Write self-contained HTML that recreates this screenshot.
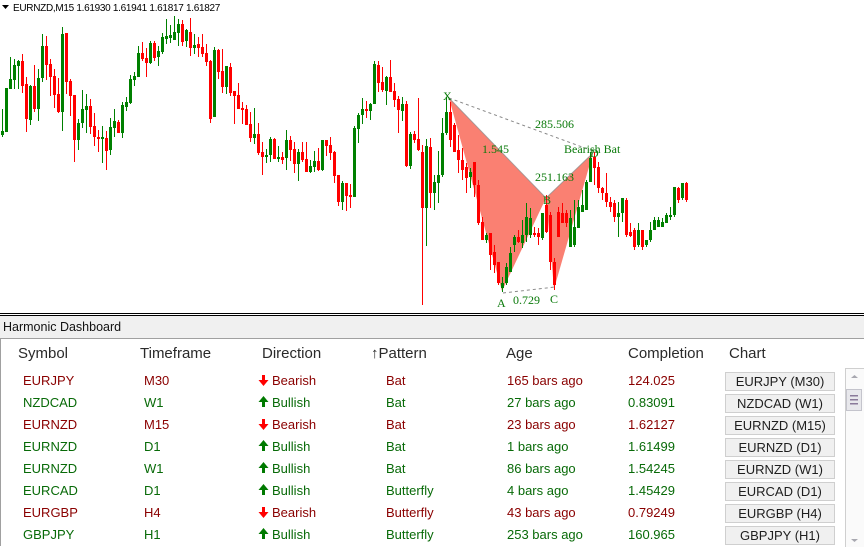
<!DOCTYPE html>
<html><head><meta charset="utf-8">
<style>
html,body{margin:0;padding:0;}
body{width:864px;height:546px;overflow:hidden;background:#fff;position:relative;font-family:"Liberation Sans",Arial,sans-serif;}
.a{position:absolute;white-space:nowrap;}
.hd{font-size:15px;line-height:17px;color:#2a2a2a;top:345px;}
.r{font-size:13px;line-height:15px;}
.red{color:#8a0000;}
.grn{color:#086a08;}
.btn{position:absolute;left:725px;width:108px;height:17px;border:1px solid #cfcfcf;background:#f0f0f0;font-size:13px;line-height:17px;text-align:center;color:#1e1e1e;}
</style></head><body>
<svg class="a" style="left:0;top:0" width="864" height="313" viewBox="0 0 864 313">
<path d="M2 5h7l-3.5 4z" fill="#000"/>
<text x="13" y="11" font-family="Liberation Sans, Arial, sans-serif" font-size="10" letter-spacing="-0.3" fill="#000">EURNZD,M15  1.61930 1.61941 1.61817 1.61827</text>
<polygon points="449,98 502,291 546,198" fill="#FA8072"/>
<polygon points="546,198 554,289 593,153" fill="#FA8072"/>
<line x1="449" y1="98" x2="546" y2="198" stroke="#8a8a8a" stroke-width="1" opacity="0.7"/>
<line x1="546" y1="198" x2="593" y2="153" stroke="#8a8a8a" stroke-width="1" opacity="0.7"/>
<line x1="449" y1="98" x2="593" y2="151" stroke="#888" stroke-width="1" stroke-dasharray="3,3"/>
<line x1="503" y1="293" x2="555" y2="287" stroke="#888" stroke-width="1" stroke-dasharray="3,3"/>
<path fill="#008000" d="M2 109h1V137h-1zM1 131h3V135h-3zM6 88h1V132h-1zM5 88h3V132h-3zM10 57h1V89h-1zM9 79h3V89h-3zM14 59h1V89h-1zM13 65h3V80h-3zM18 60h1V89h-1zM17 61h3V66h-3zM30 85h1V125h-1zM29 86h3V120h-3zM38 69h1V121h-1zM37 78h3V109h-3zM42 34h1V82h-1zM41 46h3V78h-3zM62 27h1V131h-1zM61 34h3V112h-3zM78 119h1V150h-1zM77 123h3V140h-3zM82 90h1V128h-1zM81 109h3V123h-3zM86 94h1V133h-1zM85 106h3V110h-3zM102 126h1V163h-1zM101 137h3V139h-3zM110 118h1V155h-1zM109 127h3V150h-3zM114 109h1V137h-1zM113 121h3V128h-3zM122 102h1V138h-1zM121 105h3V133h-3zM126 97h1V111h-1zM125 102h3V107h-3zM130 75h1V104h-1zM129 79h3V103h-3zM134 72h1V86h-1zM133 76h3V80h-3zM138 46h1V77h-1zM137 53h3V77h-3zM150 41h1V64h-1zM149 43h3V63h-3zM158 46h1V66h-1zM157 51h3V57h-3zM162 33h1V54h-1zM161 37h3V52h-3zM166 19h1V44h-1zM165 36h3V39h-3zM170 25h1V43h-1zM169 35h3V38h-3zM174 16h1V40h-1zM173 32h3V40h-3zM178 19h1V46h-1zM177 24h3V33h-3zM186 29h1V47h-1zM185 30h3V41h-3zM194 34h1V54h-1zM193 45h3V48h-3zM214 47h1V117h-1zM213 50h3V117h-3zM226 66h1V94h-1zM225 66h3V87h-3zM254 108h1V144h-1zM253 134h3V138h-3zM266 149h1V163h-1zM265 155h3V157h-3zM270 137h1V162h-1zM269 139h3V155h-3zM278 146h1V162h-1zM277 157h3V159h-3zM286 130h1V170h-1zM285 140h3V158h-3zM298 149h1V181h-1zM297 152h3V164h-3zM310 160h1V173h-1zM309 166h3V172h-3zM314 151h1V172h-1zM313 161h3V167h-3zM322 140h1V171h-1zM321 140h3V170h-3zM342 181h1V210h-1zM341 183h3V202h-3zM354 126h1V197h-1zM353 128h3V197h-3zM358 113h1V143h-1zM357 115h3V129h-3zM362 98h1V124h-1zM361 109h3V115h-3zM370 103h1V120h-1zM369 104h3V111h-3zM374 61h1V104h-1zM373 64h3V104h-3zM386 76h1V105h-1zM385 77h3V91h-3zM402 97h1V121h-1zM401 104h3V111h-3zM410 132h1V169h-1zM409 134h3V166h-3zM426 139h1V246h-1zM425 146h3V208h-3zM434 175h1V210h-1zM433 182h3V193h-3zM438 151h1V203h-1zM437 175h3V183h-3zM442 118h1V177h-1zM441 133h3V175h-3zM446 97h1V135h-1zM445 112h3V133h-3zM470 168h1V188h-1zM469 172h3V177h-3zM486 233h1V243h-1zM485 235h3V240h-3zM502 277h1V292h-1zM501 283h3V288h-3zM506 263h1V285h-1zM505 267h3V283h-3zM510 247h1V272h-1zM509 253h3V272h-3zM514 235h1V252h-1zM513 237h3V245h-3zM522 220h1V248h-1zM521 235h3V243h-3zM526 203h1V242h-1zM525 217h3V235h-3zM530 208h1V238h-1zM529 218h3V235h-3zM542 213h1V240h-1zM541 213h3V238h-3zM570 210h1V247h-1zM569 218h3V247h-3zM574 200h1V247h-1zM573 227h3V245h-3zM578 200h1V228h-1zM577 207h3V228h-3zM582 190h1V212h-1zM581 205h3V212h-3zM586 180h1V210h-1zM585 182h3V210h-3zM590 152h1V182h-1zM589 158h3V182h-3zM618 202h1V237h-1zM617 213h3V217h-3zM622 198h1V222h-1zM621 198h3V213h-3zM638 223h1V247h-1zM637 230h3V245h-3zM646 240h1V247h-1zM645 240h3V245h-3zM650 222h1V242h-1zM649 230h3V240h-3zM654 217h1V230h-1zM653 220h3V230h-3zM658 217h1V227h-1zM657 220h3V227h-3zM662 218h1V227h-1zM661 222h3V227h-3zM666 213h1V223h-1zM665 215h3V223h-3zM670 207h1V220h-1zM669 215h3V217h-3zM674 187h1V217h-1zM673 187h3V215h-3zM682 183h1V200h-1zM681 183h3V198h-3z"/>
<path fill="#ff0000" d="M22 54h1V93h-1zM21 61h3V86h-3zM26 77h1V132h-1zM25 84h3V119h-3zM34 65h1V112h-1zM33 86h3V109h-3zM46 36h1V80h-1zM45 46h3V65h-3zM50 59h1V96h-1zM49 64h3V77h-3zM54 69h1V108h-1zM53 76h3V95h-3zM58 78h1V113h-1zM57 94h3V112h-3zM66 33h1V94h-1zM65 33h3V82h-3zM70 79h1V116h-1zM69 81h3V96h-3zM74 95h1V162h-1zM73 95h3V140h-3zM90 99h1V134h-1zM89 106h3V127h-3zM94 113h1V146h-1zM93 126h3V137h-3zM98 130h1V152h-1zM97 137h3V139h-3zM106 131h1V170h-1zM105 138h3V151h-3zM118 120h1V133h-1zM117 122h3V133h-3zM142 42h1V61h-1zM141 53h3V59h-3zM146 48h1V77h-1zM145 58h3V63h-3zM154 41h1V61h-1zM153 43h3V58h-3zM182 20h1V46h-1zM181 24h3V42h-3zM190 18h1V56h-1zM189 32h3V48h-3zM198 37h1V57h-1zM197 44h3V48h-3zM202 34h1V57h-1zM201 47h3V54h-3zM206 44h1V66h-1zM205 53h3V62h-3zM210 60h1V123h-1zM209 61h3V119h-3zM218 49h1V79h-1zM217 50h3V72h-3zM222 49h1V93h-1zM221 71h3V87h-3zM230 63h1V96h-1zM229 67h3V93h-3zM234 91h1V124h-1zM233 91h3V96h-3zM238 83h1V109h-1zM237 95h3V109h-3zM242 102h1V124h-1zM241 108h3V110h-3zM246 105h1V125h-1zM245 109h3V125h-3zM250 112h1V142h-1zM249 124h3V138h-3zM258 123h1V155h-1zM257 134h3V153h-3zM262 142h1V175h-1zM261 152h3V157h-3zM274 138h1V159h-1zM273 139h3V159h-3zM282 152h1V164h-1zM281 157h3V160h-3zM290 136h1V161h-1zM289 140h3V150h-3zM294 142h1V173h-1zM293 149h3V164h-3zM302 142h1V162h-1zM301 152h3V160h-3zM306 142h1V172h-1zM305 159h3V172h-3zM318 148h1V171h-1zM317 161h3V170h-3zM326 140h1V156h-1zM325 140h3V146h-3zM330 137h1V160h-1zM329 145h3V153h-3zM334 151h1V183h-1zM333 152h3V176h-3zM338 175h1V206h-1zM337 175h3V202h-3zM346 183h1V211h-1zM345 183h3V196h-3zM350 184h1V208h-1zM349 195h3V197h-3zM366 101h1V118h-1zM365 109h3V111h-3zM378 61h1V92h-1zM377 65h3V83h-3zM382 67h1V92h-1zM381 82h3V90h-3zM390 60h1V92h-1zM389 77h3V92h-3zM394 83h1V107h-1zM393 91h3V100h-3zM398 96h1V133h-1zM397 99h3V110h-3zM406 101h1V167h-1zM405 104h3V166h-3zM414 131h1V143h-1zM413 134h3V140h-3zM418 98h1V151h-1zM417 139h3V150h-3zM422 145h1V305h-1zM421 152h3V208h-3zM430 138h1V208h-1zM429 147h3V193h-3zM450 102h1V147h-1zM449 112h3V140h-3zM454 123h1V152h-1zM453 125h3V152h-3zM458 135h1V173h-1zM457 150h3V160h-3zM462 148h1V180h-1zM461 160h3V170h-3zM466 163h1V193h-1zM465 167h3V178h-3zM474 162h1V197h-1zM473 162h3V185h-3zM478 180h1V225h-1zM477 185h3V223h-3zM482 217h1V240h-1zM481 222h3V240h-3zM490 233h1V270h-1zM489 233h3V255h-3zM494 245h1V273h-1zM493 252h3V265h-3zM498 262h1V285h-1zM497 262h3V283h-3zM518 230h1V243h-1zM517 237h3V242h-3zM534 227h1V237h-1zM533 233h3V235h-3zM538 228h1V245h-1zM537 233h3V237h-3zM546 195h1V233h-1zM545 205h3V232h-3zM550 212h1V270h-1zM549 215h3V262h-3zM554 258h1V290h-1zM553 262h3V285h-3zM558 207h1V237h-1zM557 212h3V237h-3zM562 203h1V223h-1zM561 213h3V223h-3zM566 210h1V227h-1zM565 213h3V223h-3zM594 152h1V185h-1zM593 157h3V168h-3zM598 162h1V193h-1zM597 167h3V188h-3zM602 187h1V200h-1zM601 188h3V193h-3zM606 173h1V207h-1zM605 193h3V202h-3zM610 197h1V212h-1zM609 202h3V207h-3zM614 200h1V222h-1zM613 203h3V217h-3zM626 198h1V237h-1zM625 200h3V235h-3zM630 223h1V237h-1zM629 232h3V236h-3zM634 228h1V250h-1zM633 230h3V247h-3zM642 230h1V250h-1zM641 230h3V247h-3zM678 187h1V203h-1zM677 188h3V200h-3zM686 182h1V202h-1zM685 183h3V200h-3z"/>
<g font-family="Liberation Serif, Times New Roman, serif" font-size="12" fill="#0a7a0a">
<text x="443" y="100">X</text>
<text x="482" y="153">1.545</text>
<text x="535" y="128">285.506</text>
<text x="564" y="153">Bearish Bat</text>
<text x="590" y="157">D</text>
<text x="535" y="181">251.163</text>
<text x="543" y="204">B</text>
<text x="497" y="307">A</text>
<text x="513" y="304">0.729</text>
<text x="550" y="303">C</text>
</g>
</svg>

<div class="a" style="left:0;top:313px;width:864px;height:1px;background:#000"></div>
<div class="a" style="left:0;top:315px;width:864px;height:1px;background:#000"></div>
<div class="a" style="left:0;top:316px;width:864px;height:22px;background:#f0f0f0"></div>
<div class="a" style="left:3px;top:320px;font-size:12.5px;line-height:14px;color:#111">Harmonic Dashboard</div>
<div class="a" style="left:0;top:338px;width:864px;height:1px;background:#a0a0a0"></div>
<div class="a" style="left:0;top:339px;width:1px;height:207px;background:#a0a0a0"></div>

<div class="a hd" style="left:18px">Symbol</div>
<div class="a hd" style="left:140px">Timeframe</div>
<div class="a hd" style="left:262px">Direction</div>
<div class="a hd" style="left:371px">↑Pattern</div>
<div class="a hd" style="left:506px">Age</div>
<div class="a hd" style="left:628px">Completion</div>
<div class="a hd" style="left:729px">Chart</div>

<div class="a r red" style="left:23px;top:373px">EURJPY</div><div class="a r red" style="left:144px;top:373px">M30</div><svg class="a" style="left:258px;top:375px" width="11" height="11"><path d="M4 0h3v5h3.5L5.5 11 0.5 5H4z" fill="#f00"/></svg><div class="a r red" style="left:272px;top:373px">Bearish</div><div class="a r red" style="left:386px;top:373px">Bat</div><div class="a r red" style="left:507px;top:373px">165 bars ago</div><div class="a r red" style="left:628px;top:373px">124.025</div>
<div class="a r grn" style="left:23px;top:395px">NZDCAD</div><div class="a r grn" style="left:144px;top:395px">W1</div><svg class="a" style="left:258px;top:396px" width="11" height="11"><path d="M4 11h3V6h3.5L5.5 0 0.5 6H4z" fill="#007a00"/></svg><div class="a r grn" style="left:272px;top:395px">Bullish</div><div class="a r grn" style="left:386px;top:395px">Bat</div><div class="a r grn" style="left:507px;top:395px">27 bars ago</div><div class="a r grn" style="left:628px;top:395px">0.83091</div>
<div class="a r red" style="left:23px;top:417px">EURNZD</div><div class="a r red" style="left:144px;top:417px">M15</div><svg class="a" style="left:258px;top:419px" width="11" height="11"><path d="M4 0h3v5h3.5L5.5 11 0.5 5H4z" fill="#f00"/></svg><div class="a r red" style="left:272px;top:417px">Bearish</div><div class="a r red" style="left:386px;top:417px">Bat</div><div class="a r red" style="left:507px;top:417px">23 bars ago</div><div class="a r red" style="left:628px;top:417px">1.62127</div>
<div class="a r grn" style="left:23px;top:439px">EURNZD</div><div class="a r grn" style="left:144px;top:439px">D1</div><svg class="a" style="left:258px;top:440px" width="11" height="11"><path d="M4 11h3V6h3.5L5.5 0 0.5 6H4z" fill="#007a00"/></svg><div class="a r grn" style="left:272px;top:439px">Bullish</div><div class="a r grn" style="left:386px;top:439px">Bat</div><div class="a r grn" style="left:507px;top:439px">1 bars ago</div><div class="a r grn" style="left:628px;top:439px">1.61499</div>
<div class="a r grn" style="left:23px;top:461px">EURNZD</div><div class="a r grn" style="left:144px;top:461px">W1</div><svg class="a" style="left:258px;top:462px" width="11" height="11"><path d="M4 11h3V6h3.5L5.5 0 0.5 6H4z" fill="#007a00"/></svg><div class="a r grn" style="left:272px;top:461px">Bullish</div><div class="a r grn" style="left:386px;top:461px">Bat</div><div class="a r grn" style="left:507px;top:461px">86 bars ago</div><div class="a r grn" style="left:628px;top:461px">1.54245</div>
<div class="a r grn" style="left:23px;top:483px">EURCAD</div><div class="a r grn" style="left:144px;top:483px">D1</div><svg class="a" style="left:258px;top:484px" width="11" height="11"><path d="M4 11h3V6h3.5L5.5 0 0.5 6H4z" fill="#007a00"/></svg><div class="a r grn" style="left:272px;top:483px">Bullish</div><div class="a r grn" style="left:386px;top:483px">Butterfly</div><div class="a r grn" style="left:507px;top:483px">4 bars ago</div><div class="a r grn" style="left:628px;top:483px">1.45429</div>
<div class="a r red" style="left:23px;top:505px">EURGBP</div><div class="a r red" style="left:144px;top:505px">H4</div><svg class="a" style="left:258px;top:507px" width="11" height="11"><path d="M4 0h3v5h3.5L5.5 11 0.5 5H4z" fill="#f00"/></svg><div class="a r red" style="left:272px;top:505px">Bearish</div><div class="a r red" style="left:386px;top:505px">Butterfly</div><div class="a r red" style="left:507px;top:505px">43 bars ago</div><div class="a r red" style="left:628px;top:505px">0.79249</div>
<div class="a r grn" style="left:23px;top:527px">GBPJPY</div><div class="a r grn" style="left:144px;top:527px">H1</div><svg class="a" style="left:258px;top:528px" width="11" height="11"><path d="M4 11h3V6h3.5L5.5 0 0.5 6H4z" fill="#007a00"/></svg><div class="a r grn" style="left:272px;top:527px">Bullish</div><div class="a r grn" style="left:386px;top:527px">Butterfly</div><div class="a r grn" style="left:507px;top:527px">253 bars ago</div><div class="a r grn" style="left:628px;top:527px">160.965</div>

<div class="btn" style="top:372px">EURJPY (M30)</div>
<div class="btn" style="top:394px">NZDCAD (W1)</div>
<div class="btn" style="top:416px">EURNZD (M15)</div>
<div class="btn" style="top:438px">EURNZD (D1)</div>
<div class="btn" style="top:460px">EURNZD (W1)</div>
<div class="btn" style="top:482px">EURCAD (D1)</div>
<div class="btn" style="top:504px">EURGBP (H4)</div>
<div class="btn" style="top:526px">GBPJPY (H1)</div>

<div class="a" style="left:845px;top:368px;width:18px;height:178px;border:1px solid #cfcfcf;border-bottom:none;background:#fafafa"></div>
<svg class="a" style="left:846px;top:369px" width="17" height="177">
<path d="M5 9l3.5-3 3.5 3z" fill="#a8a8b0"/>
<rect x="0.5" y="20.5" width="15" height="21" fill="#e8e8ec" stroke="#c4c4cc"/>
<rect x="4" y="26" width="8" height="1.5" fill="#8a7a9a"/>
<rect x="4" y="30" width="8" height="1.5" fill="#8a7a9a"/>
<rect x="4" y="34" width="8" height="1.5" fill="#8a7a9a"/>
<path d="M5 170l3.5 3 3.5-3z" fill="#a8a8b0"/>
</svg>
</body></html>
